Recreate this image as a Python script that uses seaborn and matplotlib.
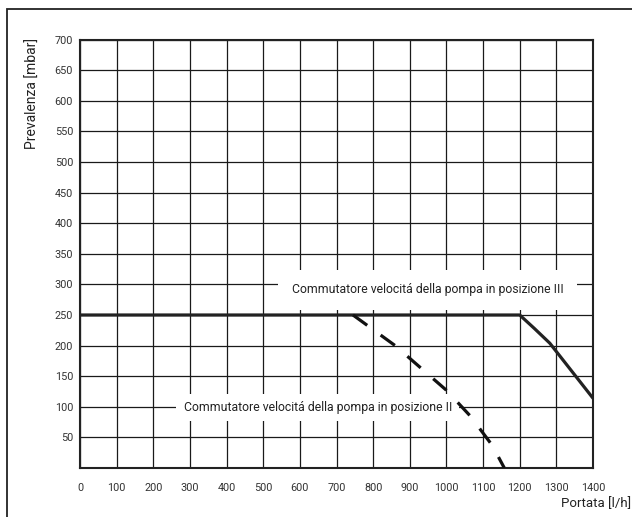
import matplotlib
matplotlib.use("Agg")
import matplotlib.pyplot as plt
import seaborn as sns
import pandas as pd
from matplotlib.patches import Rectangle

# Data
pos3_flow = [0, 1200, 1240, 1282, 1400]
pos3_head = [250, 250, 228, 204, 114]

pos2_flow = [745, 860, 1000, 1065, 1125, 1158]
pos2_head = [250, 200, 127, 85, 37, 0]

x_ticks = list(range(0, 1401, 100))
y_ticks = list(range(50, 701, 50))

label_pos3 = "Commutatore velocitá della pompa in posizione III"
label_pos2 = "Commutatore velocitá della pompa in posizione II"
x_label = "Portata [l/h]"
y_label = "Prevalenza [mbar]"

sns.set_style("white")
plt.rcParams['font.family'] = ['Roboto', 'DejaVu Sans']

df3 = pd.DataFrame({"flow": pos3_flow, "head": pos3_head})
df2 = pd.DataFrame({"flow": pos2_flow, "head": pos2_head})

fig = plt.figure(figsize=(6.32, 5.17), dpi=100)
ax = fig.add_axes([80 / 632, 1 - 468 / 517, 513 / 632, (468 - 39.6) / 517])

sns.lineplot(data=df3, x="flow", y="head", ax=ax, color="#222222",
             linewidth=2.3, sort=False, zorder=5)
sns.lineplot(data=df2, x="flow", y="head", ax=ax, color="#111111",
             linewidth=2.3, sort=False, zorder=5, linestyle=(0, (5.5, 5.2)),
             dash_capstyle="butt")

ax.set_xlim(0, 1400)
ax.set_ylim(0, 700)
ax.set_xticks(x_ticks)
ax.set_yticks([0] + y_ticks)
ax.set_yticklabels([""] + [str(v) for v in y_ticks])
ax.set_xticklabels([str(v) for v in x_ticks])
ax.tick_params(axis="both", length=0, labelsize=7.8, colors="#333333")
ax.tick_params(axis="x", pad=11)
ax.tick_params(axis="y", pad=5)

ax.grid(True, color="#1a1a1a", linewidth=0.9)
ax.set_axisbelow(True)
for s in ax.spines.values():
    s.set_visible(True)
    s.set_color("#222222")
    s.set_linewidth(1.5)

ax.set_xlabel("")
ax.set_ylabel("")

ax.text(578, 291, label_pos3, fontsize=8.8, color="#222222", va="center",
        ha="left", zorder=3,
        bbox=dict(boxstyle="square,pad=1.1", facecolor="white", edgecolor="none"))
ax.text(283, 99, label_pos2, fontsize=8.8, color="#222222", va="center",
        ha="left", zorder=3,
        bbox=dict(boxstyle="square,pad=0.6", facecolor="white", edgecolor="none"))

fig.text(631 / 632, 1 - 504 / 517, x_label, ha="right", va="center",
         fontsize=9.5, color="#222222")
fig.text(33 / 632, 1 - 38 / 517, y_label, ha="center", va="top",
         rotation=90, fontsize=10, color="#222222")

# outer frame
fig.patches.append(Rectangle((6.5 / 632, -0.1), 1.2, 1.1 - 9 / 517,
                             transform=fig.transFigure, fill=False,
                             edgecolor="#222222", linewidth=1.3))

fig.savefig("out.png", dpi=100)
